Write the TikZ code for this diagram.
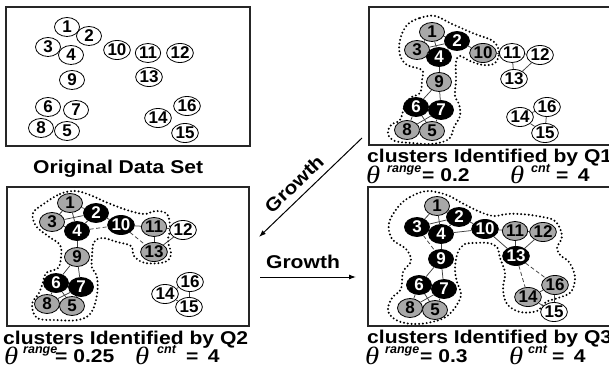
\documentclass[tikz,border=0pt]{standalone}
\usepackage{fontspec}
\setmainfont{Liberation Sans}
\newfontfamily\thetafont{Liberation Serif}
\usetikzlibrary{shapes.geometric,arrows.meta}
\newcommand{\lbl}[1]{{\fontsize{18.5}{20}\selectfont\bfseries\scalebox{1.14}[1]{#1}}}
\newcommand{\thet}{{\thetafont\fontsize{25}{25}\selectfont\itshape\scalebox{1.15}[1]{θ}}}
\newcommand{\sups}[1]{{\fontsize{12.5}{13}\selectfont\bfseries\itshape #1}}
\begin{document}
\begin{tikzpicture}[x=1pt,y=-1pt,
  nd/.style={ellipse,draw=black,line width=0.8pt,minimum width=25pt,minimum height=19pt,inner sep=0pt,font=\fontsize{17}{17}\selectfont\bfseries},
  wn/.style={nd,fill=white},
  gn/.style={nd,fill=black!34},
  bn/.style={nd,fill=black,text=white},
  ed/.style={line width=0.75pt,draw=black!75},
  de/.style={ed,dash pattern=on 4pt off 2.5pt},
  cont/.style={line width=2.2pt,dash pattern=on 0pt off 3.8pt,line cap=round},
  frame/.style={line width=1.8pt,draw=black!85},
  arr/.style={line width=1pt,-{Latex[length=7pt,width=5pt]}},
  txt/.style={inner sep=0pt,anchor=base west}]
\useasboundingbox (0,0) rectangle (609,371);
% frames
\draw[frame] (6,7) rectangle (250,146);
\draw[frame] (369,7) rectangle (615,145);
\draw[frame] (7,187) rectangle (249,326);
\draw[frame] (368,187) rectangle (615,326);
% contours
\draw[cont] plot[smooth cycle,tension=0.6] coordinates {(407,25) (420,18) (435,16) (452,24) (475,34) (493,41) (499,52) (495,63) (483,65) (470,61) (460,56) (456,62) (456,80) (455,96) (459,104) (460,116) (454,127) (449,139) (432,144) (412,143) (395,141) (388,134) (391,125) (400,120) (404,108) (410,98) (420,93) (422,80) (422,70) (407,65) (400,55) (400,40)};
\draw[cont] plot[smooth cycle,tension=0.6] coordinates {(45,203) (60,194) (75,191) (90,195) (108,203) (130,211) (145,214) (155,211) (167,214) (170,228) (168,241) (171,254) (165,262) (145,263) (134,256) (131,246) (117,242) (103,238) (94,242) (92,256) (92,268) (97,277) (97,295) (91,313) (78,320) (55,320) (37,318) (32,304) (39,293) (43,282) (46,273) (58,268) (61,257) (60,245) (48,236) (36,226) (33,213)};
\draw[cont] plot[smooth cycle,tension=0.6] coordinates {(398,207) (410,197) (427,191) (447,195) (462,203) (478,211) (493,216) (507,214) (520,214) (537,216) (555,221) (562,236) (557,248) (561,256) (569,262) (575,277) (571,292) (558,298) (546,302) (537,311) (520,312) (507,304) (503,289) (505,273) (500,258) (497,247) (488,243) (475,243) (465,244) (458,252) (455,268) (457,282) (461,295) (454,309) (442,319) (418,324) (398,321) (388,311) (392,298) (401,289) (403,272) (411,261) (406,249) (392,239) (389,223)};
% nodes: original
\foreach \n/\x/\y/\s in {1/67/27/wn,2/89/36/wn,3/48/47/wn,4/71/55/wn,10/117/50/wn,11/148/53/wn,12/180/53/wn,13/149/77/wn,9/72/80/wn,6/48/107/wn,7/76/110/wn,8/41/128/wn,5/67/131/wn,14/158/118/wn,16/187/106/wn,15/185/133/wn}
  \node[\s] (a\n) at (\x,\y) {\n};
% Q1
\foreach \n/\x/\y/\s in {1/432/32/gn,2/457/41/bn,3/417/50/gn,4/439/57/bn,10/483/53/gn,11/512/53/wn,12/540/55/wn,13/514/79/wn,9/439/82/gn,6/416/107/bn,7/441/110/bn,8/407/130/gn,5/432/131/gn,14/520/117/wn,16/547/107/wn,15/545/133/wn}
  \node[\s] (b\n) at (\x,\y) {\n};
% Q2
\foreach \n/\x/\y/\s in {1/70/203/gn,2/96/213/bn,3/52/222/gn,4/77/231/bn,10/121/225/bn,11/154/227/gn,12/183/230/wn,13/154/252/gn,9/77/257/gn,6/56/283/bn,7/81/287/bn,8/47/304/gn,5/72/306/gn,14/165/294/wn,16/190/282/wn,15/189/307/wn}
  \node[\s] (c\n) at (\x,\y) {\n};
% Q3
\foreach \n/\x/\y/\s in {1/437/206/gn,2/459/217/bn,3/417/227/bn,4/441/234/bn,10/485/229/bn,11/515/231/gn,12/543/232/gn,13/516/256/bn,9/441/259/bn,6/419/285/bn,7/444/289/bn,8/410/308/gn,5/435/310/gn,14/528/297/gn,16/555/285/gn,15/554/312/wn}
  \node[\s] (d\n) at (\x,\y) {\n};
% edges
\foreach \u/\v in {1/2,1/3,1/4,2/3,3/4,2/4,2/10,4/9,10/11,11/12,11/13,12/13,9/6,9/7,6/7,6/8,6/5,7/8,7/5,8/5,14/16,14/15,16/15}
  \draw[ed] (b\u) -- (b\v);
\foreach \u/\v in {1/2,1/3,1/4,2/3,3/4,2/4,2/10,4/9,10/11,11/12,11/13,12/13,9/6,9/7,6/7,6/8,6/5,7/8,7/5,8/5,14/16,14/15,16/15}
  \draw[ed] (c\u) -- (c\v);
\draw[de] (c4) -- (c10);
\draw[de] (c10) -- (c13);
\foreach \u/\v in {1/2,1/3,1/4,2/3,3/4,2/4,2/10,4/10,10/11,10/13,4/9,11/12,11/13,12/13,9/6,9/7,6/7,6/8,6/5,7/8,7/5,8/5,14/16,14/15,16/15}
  \draw[ed] (d\u) -- (d\v);
\draw[de] (d3) -- (d9);
\draw[de] (d13) -- (d14);
\draw[de] (d13) -- (d16);
% growth arrows
\coordinate (g1s) at (362,138);
\coordinate (g1e) at (259,237);
\coordinate (g2s) at (260,277);
\coordinate (g2e) at (356,277);
\draw[arr] (g1s) -- (g1e);
\draw[arr] (g2s) -- (g2e);
\node[inner sep=0pt,rotate=44] (gl1) at (294,184) {\lbl{Growth}};
\node[inner sep=0pt,anchor=base] (gl2) at (303,268) {\lbl{Growth}};
% captions
\node[txt] (t0) at (33,174) {\lbl{Original Data Set}};
\node[txt] (t1) at (367,163) {\lbl{clusters Identified by Q1}};
\node[txt] (t2) at (3,344) {\lbl{clusters Identified by Q2}};
\node[txt] (t3) at (367,343) {\lbl{clusters Identified by Q3}};
% theta lines
\node[txt] (p1a) at (366,184) {\thet};
\node[txt] (p1b) at (387,173) {\sups{range}};
\node[txt] (p1c) at (422,182) {\lbl{= 0.2}};
\node[txt] (p1d) at (510,184) {\thet};
\node[txt] (p1e) at (531,173) {\sups{cnt}};
\node[txt] (p1f) at (556,182) {\lbl{=\hspace{0.45em}4}};
\node[txt] (p2a) at (4,364) {\thet};
\node[txt] (p2b) at (23,353) {\sups{range}};
\node[txt] (p2c) at (55,362) {\lbl{= 0.25}};
\node[txt] (p2d) at (135,364) {\thet};
\node[txt] (p2e) at (157,353) {\sups{cnt}};
\node[txt] (p2f) at (186,362) {\lbl{=\hspace{0.45em}4}};
\node[txt] (p3a) at (365,364) {\thet};
\node[txt] (p3b) at (385,353) {\sups{range}};
\node[txt] (p3c) at (420,362) {\lbl{= 0.3}};
\node[txt] (p3d) at (509,364) {\thet};
\node[txt] (p3e) at (528,353) {\sups{cnt}};
\node[txt] (p3f) at (552,362) {\lbl{=\hspace{0.45em}4}};
\end{tikzpicture}
\end{document}
